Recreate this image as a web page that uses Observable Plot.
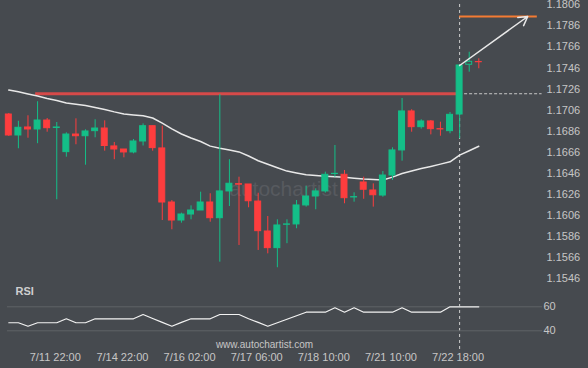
<!DOCTYPE html>
<html><head><meta charset="utf-8">
<script src="https://cdn.jsdelivr.net/npm/d3@7"></script>
<script src="https://cdn.jsdelivr.net/npm/@observablehq/plot@0.6"></script>
<style>
html,body{margin:0;padding:0;background:#464a4f;}
#chart{position:relative;width:588px;height:368px;background:#464a4f;overflow:hidden;font-family:"Liberation Sans",Arial,sans-serif;}
#chart svg{position:absolute;left:0;top:0;}
</style></head><body><div id="chart"></div>
<script>
// ---- data (4h candles, index 0..49) ----
const opens = [1.17019,1.16820,1.16896,1.16877,1.16962,1.16891,1.16662,1.16829,1.16813,1.16861,
1.16886,1.16716,1.16687,1.16659,1.16763,1.16908,1.16697,1.16184,1.16013,1.16070,
1.16108,1.16184,1.16035,1.16289,1.16358,1.16355,1.16193,1.15909,1.15751,1.15973,
1.15976,1.16156,1.16241,1.16289,1.16454,1.16447,1.16232,1.16374,1.16298,1.16250,
1.16440,1.16678,1.17048,1.16899,1.16953,1.16880,1.16861,1.17019,1.17491,1.17517];
const highs = [1.17029,1.16955,1.17007,1.17140,1.16981,1.16943,1.16845,1.16978,1.16874,1.16969,
1.16959,1.16754,1.16687,1.16782,1.16930,1.16908,1.16908,1.16203,1.16083,1.16152,
1.16282,1.16267,1.17209,1.16590,1.16424,1.16355,1.16272,1.16051,1.16020,1.16020,
1.16203,1.16336,1.16314,1.16472,1.16725,1.16488,1.16276,1.16424,1.16361,1.16478,
1.16703,1.17171,1.17064,1.16969,1.16962,1.16946,1.17038,1.17484,1.17610,1.17548];
const lows = [1.16811,1.16694,1.16794,1.16742,1.16851,1.16210,1.16614,1.16732,1.16538,1.16798,
1.16671,1.16590,1.16608,1.16646,1.16720,1.16671,1.16013,1.15925,1.15988,1.16020,
1.16108,1.15997,1.15618,1.16146,1.15776,1.16134,1.15729,1.15697,1.15565,1.15793,
1.15935,1.16140,1.16115,1.16273,1.16424,1.16172,1.16187,1.16215,1.16140,1.16234,
1.16393,1.16576,1.16851,1.16880,1.16826,1.16813,1.16836,1.16789,1.17421,1.17453];
const closes = [1.16820,1.16893,1.16877,1.16962,1.16889,1.16896,1.16829,1.16813,1.16858,1.16886,
1.16720,1.16687,1.16659,1.16763,1.16908,1.16700,1.16184,1.16013,1.16070,1.16108,
1.16184,1.16035,1.16289,1.16362,1.16353,1.16196,1.15912,1.15751,1.15966,1.15976,
1.16156,1.16241,1.16289,1.16447,1.16456,1.16225,1.16235,1.16305,1.16253,1.16440,
1.16678,1.17048,1.16899,1.16953,1.16880,1.16877,1.17016,1.17484,1.17519,1.17515];
const movingAvg = [1.17251,1.17235,1.17214,1.17195,1.17171,1.17152,1.17128,1.17116,1.17105,1.17086,
1.17067,1.17044,1.17024,1.17015,1.17007,1.16986,1.16937,1.16882,1.16834,1.16796,
1.16763,1.16719,1.16699,1.16682,1.16664,1.16625,1.16580,1.16547,1.16514,1.16482,
1.16464,1.16448,1.16440,1.16433,1.16428,1.16424,1.16415,1.16407,1.16402,1.16398,
1.16425,1.16459,1.16483,1.16506,1.16526,1.16548,1.16570,1.16634,1.16675,1.16718];
const rsi = [46.7,46.7,43.8,46.7,46.7,46.7,50,46.7,46.7,50,
50,50,50,50,53.6,50.3,47,43.8,47,50,
50,50,53.6,53.6,53.6,50,47,43.8,46.7,49.6,
52.5,55.5,55.5,55.5,59.2,55.5,59.2,55.5,55.5,55.5,
55.5,59.2,55.5,55.5,55.5,55.5,60,60,60,60];
const timeTickIndex = [5,12,19,26,33,40,47];
const timeTickLabels = ["7/11 22:00","7/14 22:00","7/16 02:00","7/17 06:00","7/18 10:00","7/21 10:00","7/22 18:00"];
const priceTicks = [1.1806,1.1786,1.1766,1.1746,1.1726,1.1706,1.1686,1.1666,1.1646,1.1626,1.1606,1.1586,1.1566,1.1546];
const rsiTicks = [40,60];
// pattern annotation
const resistanceLevel = 1.17216;
const resistanceStart = 2.8;
const breakoutIndex = 47;
const dashedEnd = 55.6;
const targetLevel = 1.17949;
const targetEnd = 55.1;
const arrowEnd = 54.1;

// ---- styles ----
const BG = "#464a4f", GREEN = "#14bf88", RED = "#fd3d3e", TXT = "#c6c6c6";
const font = '"Liberation Sans", Arial, sans-serif';

const candles = opens.map((o, i) => ({i, open: o, high: highs[i], low: lows[i], close: closes[i], up: closes[i] >= o}));
const colorOf = d => d.up ? GREEN : RED;

const root = document.getElementById("chart");

const price = Plot.plot({
  width: 588, height: 368,
  marginLeft: 0, marginRight: 43, marginTop: 4, marginBottom: 18,
  style: {background: "transparent", color: TXT, fontFamily: font, fontSize: "11px", overflow: "visible"},
  x: {type: "linear", domain: [0, 49], range: [8.3, 478.3], axis: null},
  y: {type: "linear", domain: [1.1546, 1.1806], range: [278.3, 4.3], axis: null},
  color: {type: "identity"},
  marks: [
    Plot.text(["autochartist"], {frameAnchor: "top-left", dx: 283, dy: 185, textAnchor: "middle", lineAnchor: "middle",
      fill: "#575a5f", fontSize: 21, letterSpacing: 0.5}),
    Plot.ruleX([breakoutIndex], {stroke: "#cfcfcf", strokeDasharray: "3,3", strokeWidth: 1}),
    Plot.ruleY([resistanceLevel], {x1: breakoutIndex, x2: dashedEnd, stroke: "#c8c8c8", strokeDasharray: "3,2", strokeWidth: 1}),
    Plot.ruleY([resistanceLevel], {x1: resistanceStart, x2: breakoutIndex, stroke: "#d64a49", strokeWidth: 3}),
    Plot.line(movingAvg, {x: (d, i) => i, y: d => d, stroke: "#e8e8e8", strokeWidth: 1.5}),
    Plot.ruleX(candles, {x: "i", y1: "low", y2: "high", stroke: colorOf, strokeWidth: 1}),
    Plot.rect(candles, {x1: d => d.i - 0.31, x2: d => d.i + 0.31, y1: "open", y2: "close",
      fill: d => d.i === 48 ? BG : colorOf(d), stroke: colorOf, strokeWidth: 1}),
    Plot.ruleY([targetLevel], {x1: breakoutIndex, x2: targetEnd, stroke: "#f47b33", strokeWidth: 2}),
    Plot.arrow([0], {x1: breakoutIndex, y1: closes[breakoutIndex], x2: arrowEnd, y2: targetLevel,
      stroke: "#e8e8e8", strokeWidth: 1.5, headLength: 10}),
    Plot.axisY(priceTicks, {anchor: "right", tickSize: 0, tickPadding: 1, tickFormat: d => d.toFixed(4), fill: TXT})
  ]
});
root.appendChild(price);

const osc = Plot.plot({
  width: 588, height: 368,
  marginLeft: 7, marginRight: 46, marginTop: 4, marginBottom: 18,
  style: {background: "transparent", color: TXT, fontFamily: font, fontSize: "11px", overflow: "visible"},
  x: {type: "linear", domain: [0, 49], range: [8.3, 478.3], axis: null},
  y: {type: "linear", domain: [40, 60], range: [330.3, 306.3], axis: null},
  marks: [
    Plot.ruleY(rsiTicks, {stroke: "#5f6367", strokeWidth: 1}),
    Plot.line(rsi, {x: (d, i) => i, y: d => d, stroke: "#f2f2f2", strokeWidth: 1.2}),
    Plot.axisY(rsiTicks, {anchor: "right", tickSize: 0, tickPadding: 1, fill: TXT}),
    Plot.axisX(timeTickIndex, {anchor: "bottom", tickSize: 0, tickPadding: 3, dx: -1.5, fill: TXT,
      tickFormat: i => timeTickLabels[timeTickIndex.indexOf(i)]}),
    Plot.text(["RSI"], {frameAnchor: "top-left", dx: 8, dy: 283, textAnchor: "start", lineAnchor: "top",
      fontWeight: "bold", fontSize: 11, fill: "#cfcfcf"}),
    Plot.text(["www.autochartist.com"], {frameAnchor: "top-left", dx: 257, dy: 336, textAnchor: "middle", lineAnchor: "top",
      fontSize: 10, letterSpacing: 0.3, fill: "#c6c6c6"})
  ]
});
root.appendChild(osc);
</script></body></html>
